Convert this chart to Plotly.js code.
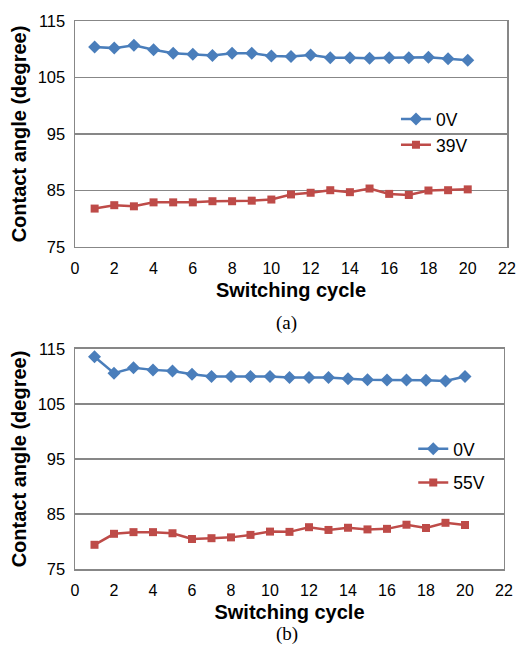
<!DOCTYPE html>
<html>
<head>
<meta charset="utf-8">
<script src="https://cdn.plot.ly/plotly-3.0.1.min.js"></script>
<style>html,body{margin:0;padding:0;background:#fff;}#chart{width:520px;height:647px;}</style>
</head>
<body>
<div id="chart"></div>
<script>
// Data
var cycles = [1,2,3,4,5,6,7,8,9,10,11,12,13,14,15,16,17,18,19,20];
var a_0V  = [110.4,110.2,110.7,109.9,109.3,109.1,108.9,109.3,109.3,108.8,108.7,109.0,108.5,108.5,108.4,108.5,108.5,108.6,108.3,108.05];
var a_39V = [81.8,82.4,82.2,82.9,82.9,82.9,83.1,83.1,83.2,83.4,84.3,84.6,85.05,84.7,85.35,84.4,84.2,85.0,85.05,85.2];
var b_0V  = [113.6,110.6,111.6,111.2,111.0,110.4,110.0,110.0,110.0,110.0,109.8,109.8,109.8,109.6,109.4,109.35,109.35,109.3,109.2,110.0];
var b_55V = [79.4,81.4,81.7,81.7,81.5,80.45,80.6,80.75,81.2,81.8,81.75,82.6,82.1,82.5,82.2,82.3,83.05,82.45,83.4,83.0];
var xTicks = [0,2,4,6,8,10,12,14,16,18,20,22];
var yTicks = [75,85,95,105,115];
var panelLabels = ['(a)','(b)'];
var seriesNames = ['0V','39V','55V'];

var BLUE = '#4A7EBB', RED = '#BE4B48', GRID = '#878787';
var FONT = 'Liberation Sans, Arial, sans-serif';

function lineTrace(x, y, name, color, symbol, size, xa, ya, leg) {
  return {
    x: x, y: y, name: name, type: 'scatter', mode: 'lines+markers',
    xaxis: xa, yaxis: ya, legend: leg, legendgroup: name + ya,
    line: {color: color, width: 2.5},
    marker: {color: color, symbol: symbol, size: size}
  };
}

var traces = [
  lineTrace(cycles, a_0V, seriesNames[0], BLUE, 'diamond', 10, 'x', 'y', 'legend'),
  lineTrace(cycles, a_39V, seriesNames[1], RED, 'square', 8, 'x', 'y', 'legend'),
  lineTrace(cycles, b_0V, seriesNames[0], BLUE, 'diamond', 10, 'x2', 'y2', 'legend2'),
  lineTrace(cycles, b_55V, seriesNames[2], RED, 'square', 8, 'x2', 'y2', 'legend2')
];

function xAxis(domain, anchor) {
  return {
    domain: domain, anchor: anchor, range: [0, 22], tickvals: xTicks,
    showgrid: false, zeroline: false, showline: true, mirror: true,
    linecolor: GRID, linewidth: 1.5, ticks: '', ticklabelstandoff: 6,
    tickfont: {family: FONT, size: 16, color: '#000'},
    title: {text: 'Switching cycle', standoff: 7, font: {family: FONT, size: 20, color: '#000', weight: 'bold'}}
  };
}
function yAxis(domain, anchor) {
  return {
    domain: domain, anchor: anchor, range: [75, 115], tickvals: yTicks,
    showgrid: true, gridcolor: GRID, gridwidth: 1.5, zeroline: false,
    showline: true, mirror: true, linecolor: GRID, linewidth: 1.5,
    ticks: '', ticklabelstandoff: 5,
    tickfont: {family: FONT, size: 16.5, color: '#000'},
    title: {text: 'Contact angle (degree)', standoff: 5, font: {family: FONT, size: 20, color: '#000', weight: 'bold'}}
  };
}

var legendFont = {family: FONT, size: 17.5, color: '#000'};
var layout = {
  width: 520, height: 647,
  margin: {l: 75, r: 13, t: 21, b: 78},
  paper_bgcolor: '#fff', plot_bgcolor: '#fff',
  showlegend: true,
  xaxis: xAxis([0, 1], 'y'),
  yaxis: yAxis([0.5876, 1], 'x'),
  xaxis2: xAxis([0, 0.993], 'y2'),
  yaxis2: yAxis([0, 0.4015], 'x2'),
  legend: {x: 0.743, y: 0.797, xanchor: 'left', yanchor: 'middle', bgcolor: 'rgba(0,0,0,0)',
           font: legendFont, traceorder: 'grouped', tracegroupgap: 0, itemwidth: 30},
  legend2: {x: 0.783, y: 0.188, xanchor: 'left', yanchor: 'middle', bgcolor: 'rgba(0,0,0,0)',
            font: legendFont, traceorder: 'grouped', tracegroupgap: 8, itemwidth: 30},
  annotations: [
    {text: panelLabels[0], xref: 'paper', yref: 'paper', x: 0.49, y: 1 - (323 - 21) / 548,
     showarrow: false, xanchor: 'center', yanchor: 'middle',
     font: {family: 'Liberation Serif, Times New Roman, serif', size: 19, color: '#000'}},
    {text: panelLabels[1], xref: 'paper', yref: 'paper', x: 0.49, y: 1 - (634 - 21) / 548,
     showarrow: false, xanchor: 'center', yanchor: 'middle',
     font: {family: 'Liberation Serif, Times New Roman, serif', size: 19, color: '#000'}}
  ]
};

Plotly.newPlot('chart', traces, layout, {displayModeBar: false, staticPlot: true});
</script>
</body>
</html>
